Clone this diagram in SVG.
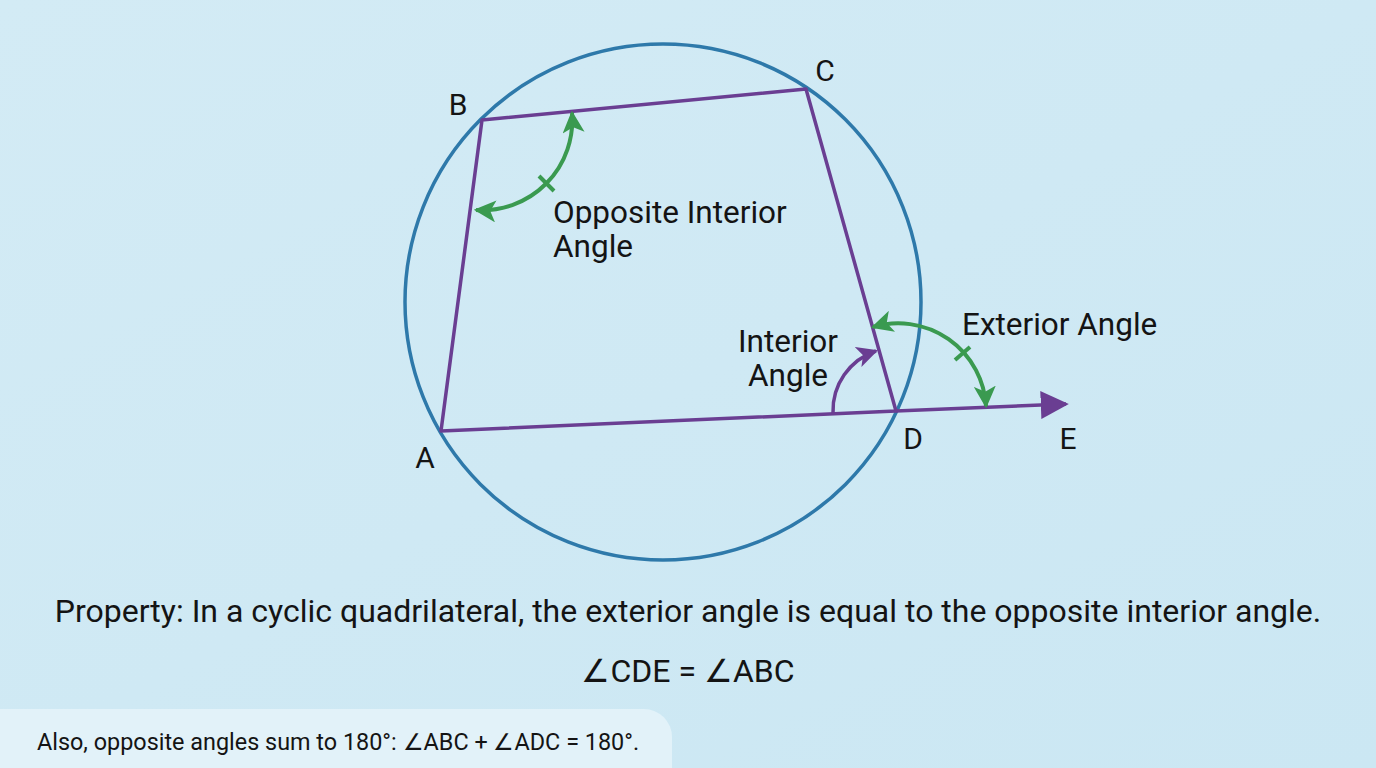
<svg xmlns="http://www.w3.org/2000/svg" width="1376" height="768" viewBox="0 0 1376 768">
<style>
.t{font-family:Roboto,"Liberation Sans",sans-serif;fill:#141414}
.lbl{font-size:30px}
.ann{font-size:31.5px}
.geo{fill:none;stroke:#6a3e92;stroke-width:3.5;stroke-linejoin:round}
.grn{fill:none;stroke:#3a9a50;stroke-width:4}
</style>
<defs>
<linearGradient id="bg" x1="0" y1="0" x2="1" y2="1">
<stop offset="0" stop-color="#d3ebf5"/>
<stop offset="1" stop-color="#cbe7f3"/>
</linearGradient>
<marker id="ag" viewBox="0 0 10 10" refX="9" refY="5" markerWidth="5.5" markerHeight="5.5" orient="auto-start-reverse" markerUnits="strokeWidth">
<path d="M0 0 L10 5 L0 10 L2.5 5 Z" fill="#3a9a50"/>
</marker>
<marker id="ap" viewBox="0 0 10 10" refX="9" refY="5" markerWidth="6" markerHeight="6" orient="auto" markerUnits="strokeWidth">
<path d="M0 0 L10 5 L0 10 L2.5 5 Z" fill="#6a3e92"/>
</marker>
<marker id="ae" viewBox="0 0 10 10" refX="9" refY="5" markerWidth="8" markerHeight="8" orient="auto" markerUnits="strokeWidth">
<path d="M0 0 L10 5 L0 10 Z" fill="#6a3e92"/>
</marker>
</defs>
<rect width="1376" height="768" fill="url(#bg)"/>
<g id="circle">
<circle cx="663" cy="302" r="258" fill="none" stroke="#2e79aa" stroke-width="3.5"/>
</g>
<g id="connectors">
<polygon class="geo" points="441,431 482,120 806,89 896,411"/>
<line class="geo" x1="896" y1="411" x2="1066" y2="404" marker-end="url(#ae)"/>
<path class="grn" d="M476 210 A90 90 0 0 0 572 113" marker-start="url(#ag)" marker-end="url(#ag)"/>
<line class="grn" x1="539" y1="176" x2="554" y2="191" stroke-width="3"/>
<path class="grn" d="M873 327 A88 88 0 0 1 986 406" marker-start="url(#ag)" marker-end="url(#ag)"/>
<line class="grn" x1="955" y1="360" x2="970" y2="347" stroke-width="3"/>
<path class="geo" d="M833 413 A63 63 0 0 1 876 351" stroke-width="4" marker-end="url(#ap)"/>
</g>
<g id="point-labels" class="t lbl">
<text x="458" y="115" text-anchor="middle">B</text>
<text x="825" y="81" text-anchor="middle">C</text>
<text x="425" y="468" text-anchor="middle">A</text>
<text x="913" y="449" text-anchor="middle">D</text>
<text x="1068" y="449" text-anchor="middle">E</text>
</g>
<g id="opposite-label" class="t ann">
<text x="553" y="223">Opposite Interior</text>
<text x="553" y="257">Angle</text>
</g>
<g id="interior-label" class="t ann" text-anchor="middle">
<text x="788" y="352">Interior</text>
<text x="788" y="386">Angle</text>
</g>
<g id="exterior-label" class="t ann">
<text x="962" y="335">Exterior Angle</text>
</g>
<g id="property" class="t">
<text x="688" y="622" text-anchor="middle" font-size="32">Property: In a cyclic quadrilateral, the exterior angle is equal to the opposite interior angle.</text>
<text x="688" y="682" text-anchor="middle" font-size="32">∠CDE = ∠ABC</text>
</g>
<g id="note">
<rect x="-30" y="709" width="702" height="90" rx="28" fill="#e2f2f9"/>
<text class="t" x="37" y="750" font-size="23.4">Also, opposite angles sum to 180°: ∠ABC + ∠ADC = 180°.</text>
</g>
</svg>
